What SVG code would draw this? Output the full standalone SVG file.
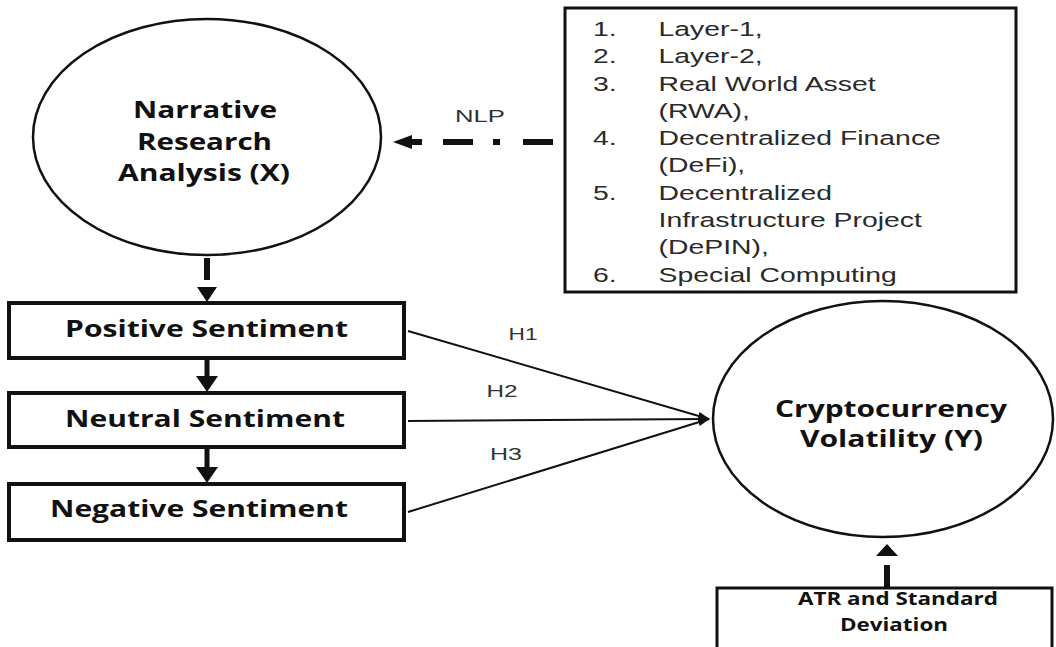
<svg xmlns="http://www.w3.org/2000/svg" width="1056" height="647" viewBox="0 0 1056 647">
  <style>
    .bg { fill: #ffffff; }
    .shape { fill: #ffffff; stroke: #111111; }
    .bold { font-family: "Open Sans", "Noto Sans", "DejaVu Sans", sans-serif; font-weight: 700; fill: #111111; text-anchor: middle; }
    .plain { font-family: "Liberation Sans", Arial, sans-serif; fill: #2a2a2a; }
    .hlabel { font-family: "Liberation Sans", Arial, sans-serif; fill: #333333; font-size: 17px; text-anchor: middle; }
    .link { stroke: #111111; stroke-width: 2; fill: none; }
    .thick { fill: #111111; stroke: none; }
  </style>
  <defs>
    <marker id="arrowSmall" viewBox="0 0 12 10" refX="11" refY="5" markerWidth="12" markerHeight="10" markerUnits="userSpaceOnUse" orient="auto">
      <path d="M0,1 L12,5 L0,9 z" fill="#111111"/>
    </marker>
  </defs>

  <rect class="bg" x="0" y="0" width="1056" height="647"/>

  <!-- Connectors -->
  <g id="connectors">
    <!-- NLP: dash-dot line feeding the narrative node -->
    <polygon class="thick" points="393,142 412,135 412,149"/>
    <rect class="thick" x="411" y="139" width="11" height="6"/>
    <rect class="thick" x="443" y="139" width="30" height="6"/>
    <rect class="thick" x="493" y="139" width="7" height="6"/>
    <rect class="thick" x="523" y="139" width="30" height="6"/>

    <!-- Narrative to Positive -->
    <rect class="thick" x="204" y="258" width="6" height="22"/>
    <polygon class="thick" points="197,287 217,287 207,302"/>

    <!-- Positive to Neutral -->
    <rect class="thick" x="204.5" y="358" width="5" height="20"/>
    <polygon class="thick" points="196,376 218,376 207,392"/>

    <!-- Neutral to Negative -->
    <rect class="thick" x="204.5" y="447" width="5" height="21"/>
    <polygon class="thick" points="196,467 218,467 207,483"/>

    <!-- Hypotheses H1..H3 -->
    <line class="link" x1="408" y1="331" x2="709" y2="419" marker-end="url(#arrowSmall)"/>
    <line class="link" x1="408" y1="421" x2="709" y2="419" marker-end="url(#arrowSmall)"/>
    <line class="link" x1="408" y1="512" x2="709" y2="419" marker-end="url(#arrowSmall)"/>

    <!-- ATR to volatility -->
    <polygon class="thick" points="887,544 876,556 898,556"/>
    <rect class="thick" x="884" y="565" width="6" height="24"/>
  </g>

  <!-- Hypothesis labels -->
  <g id="hypothesis-labels">
    <text class="hlabel" x="523" y="340" textLength="29" lengthAdjust="spacingAndGlyphs">H1</text>
    <text class="hlabel" x="502" y="397" textLength="31" lengthAdjust="spacingAndGlyphs">H2</text>
    <text class="hlabel" x="506" y="460" textLength="32" lengthAdjust="spacingAndGlyphs">H3</text>
    <text class="hlabel" x="480" y="122" font-size="18" textLength="50" lengthAdjust="spacingAndGlyphs">NLP</text>
  </g>

  <!-- Narrative Research Analysis (X) -->
  <g id="node-narrative">
    <ellipse class="shape" cx="207" cy="137" rx="174" ry="118" stroke-width="2.5"/>
    <text class="bold" x="205" y="118" font-size="23" textLength="144" lengthAdjust="spacingAndGlyphs">Narrative</text>
    <text class="bold" x="204.5" y="150" font-size="23" textLength="135" lengthAdjust="spacingAndGlyphs">Research</text>
    <text class="bold" x="204" y="181" font-size="23" textLength="172" lengthAdjust="spacingAndGlyphs">Analysis (X)</text>
  </g>

  <!-- Narrative categories -->
  <g id="node-categories">
    <rect class="shape" x="565" y="8" width="451" height="284" stroke-width="3"/>
    <g class="plain" font-size="19.5" transform="translate(593,0) scale(1.456,1)">
      <text x="0" y="36">1.</text><text x="45" y="36">Layer-1,</text>
      <text x="0" y="63.3">2.</text><text x="45" y="63.3">Layer-2,</text>
      <text x="0" y="90.6">3.</text><text x="45" y="90.6">Real World Asset</text>
      <text x="45" y="117.9">(RWA),</text>
      <text x="0" y="145.2">4.</text><text x="45" y="145.2">Decentralized Finance</text>
      <text x="45" y="172.5">(DeFi),</text>
      <text x="0" y="199.8">5.</text><text x="45" y="199.8">Decentralized</text>
      <text x="45" y="227.1">Infrastructure Project</text>
      <text x="45" y="254.4">(DePIN),</text>
      <text x="0" y="281.7">6.</text><text x="45" y="281.7">Special Computing</text>
    </g>
  </g>

  <!-- Sentiment classes -->
  <g id="node-positive">
    <rect class="shape" x="9" y="303" width="395" height="55" stroke-width="4"/>
    <text class="bold" x="206.5" y="337" font-size="23" textLength="283" lengthAdjust="spacingAndGlyphs">Positive Sentiment</text>
  </g>
  <g id="node-neutral">
    <rect class="shape" x="9" y="393" width="395" height="54" stroke-width="4"/>
    <text class="bold" x="205" y="427" font-size="23" textLength="280" lengthAdjust="spacingAndGlyphs">Neutral Sentiment</text>
  </g>
  <g id="node-negative">
    <rect class="shape" x="9" y="484" width="395" height="56" stroke-width="4"/>
    <text class="bold" x="199" y="517" font-size="23" textLength="298" lengthAdjust="spacingAndGlyphs">Negative Sentiment</text>
  </g>

  <!-- Cryptocurrency Volatility (Y) -->
  <g id="node-volatility">
    <ellipse class="shape" cx="883" cy="419" rx="170" ry="118" stroke-width="2.5"/>
    <text class="bold" x="891" y="417" font-size="24" textLength="232" lengthAdjust="spacingAndGlyphs">Cryptocurrency</text>
    <text class="bold" x="891.5" y="447" font-size="24" textLength="183" lengthAdjust="spacingAndGlyphs">Volatility (Y)</text>
  </g>

  <!-- ATR and Standard Deviation -->
  <g id="node-atr">
    <rect class="shape" x="717" y="588" width="335" height="90" stroke-width="3"/>
    <text class="bold" x="898" y="605" font-size="18" textLength="200" lengthAdjust="spacingAndGlyphs">ATR and Standard</text>
    <text class="bold" x="894" y="631" font-size="18" textLength="108" lengthAdjust="spacingAndGlyphs">Deviation</text>
  </g>
</svg>
